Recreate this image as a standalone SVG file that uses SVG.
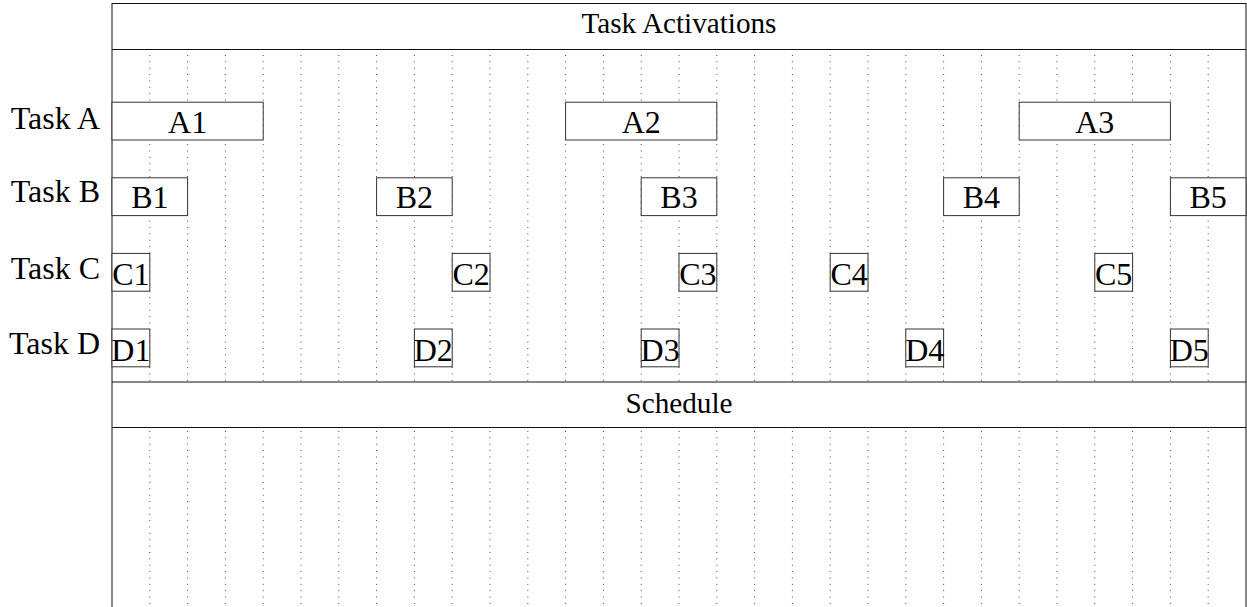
<svg xmlns="http://www.w3.org/2000/svg" width="1247" height="607" viewBox="0 0 1247 607">
<style>
.grid line{stroke:#000;stroke-width:0.8;stroke-dasharray:0.9 5.47}
.frame{stroke:#111;stroke-width:1;fill:none}
.box rect{fill:#fff;stroke:#333;stroke-width:1}
text{font-family:"Liberation Serif","Times New Roman",serif;fill:#000}
.lbl{font-size:32px;text-anchor:middle}
.task{font-size:32px;text-anchor:end}
.hdr{font-size:29.2px;text-anchor:middle}
</style>
<rect width="1247" height="607" fill="#fff"/>
<g id="grid" class="grid">
<line x1="149.8" y1="55" x2="149.8" y2="382"/><line x1="187.6" y1="55" x2="187.6" y2="382"/><line x1="225.4" y1="55" x2="225.4" y2="382"/><line x1="263.2" y1="55" x2="263.2" y2="382"/><line x1="301" y1="55" x2="301" y2="382"/><line x1="338.8" y1="55" x2="338.8" y2="382"/><line x1="376.6" y1="55" x2="376.6" y2="382"/><line x1="414.4" y1="55" x2="414.4" y2="382"/><line x1="452.2" y1="55" x2="452.2" y2="382"/><line x1="490" y1="55" x2="490" y2="382"/><line x1="527.8" y1="55" x2="527.8" y2="382"/><line x1="565.6" y1="55" x2="565.6" y2="382"/><line x1="603.4" y1="55" x2="603.4" y2="382"/><line x1="641.2" y1="55" x2="641.2" y2="382"/><line x1="679" y1="55" x2="679" y2="382"/><line x1="716.8" y1="55" x2="716.8" y2="382"/><line x1="754.6" y1="55" x2="754.6" y2="382"/><line x1="792.4" y1="55" x2="792.4" y2="382"/><line x1="830.2" y1="55" x2="830.2" y2="382"/><line x1="868" y1="55" x2="868" y2="382"/><line x1="905.8" y1="55" x2="905.8" y2="382"/><line x1="943.6" y1="55" x2="943.6" y2="382"/><line x1="981.4" y1="55" x2="981.4" y2="382"/><line x1="1019.2" y1="55" x2="1019.2" y2="382"/><line x1="1057" y1="55" x2="1057" y2="382"/><line x1="1094.8" y1="55" x2="1094.8" y2="382"/><line x1="1132.6" y1="55" x2="1132.6" y2="382"/><line x1="1170.4" y1="55" x2="1170.4" y2="382"/><line x1="1208.2" y1="55" x2="1208.2" y2="382"/>
<line x1="149.8" y1="431" x2="149.8" y2="607"/><line x1="187.6" y1="431" x2="187.6" y2="607"/><line x1="225.4" y1="431" x2="225.4" y2="607"/><line x1="263.2" y1="431" x2="263.2" y2="607"/><line x1="301" y1="431" x2="301" y2="607"/><line x1="338.8" y1="431" x2="338.8" y2="607"/><line x1="376.6" y1="431" x2="376.6" y2="607"/><line x1="414.4" y1="431" x2="414.4" y2="607"/><line x1="452.2" y1="431" x2="452.2" y2="607"/><line x1="490" y1="431" x2="490" y2="607"/><line x1="527.8" y1="431" x2="527.8" y2="607"/><line x1="565.6" y1="431" x2="565.6" y2="607"/><line x1="603.4" y1="431" x2="603.4" y2="607"/><line x1="641.2" y1="431" x2="641.2" y2="607"/><line x1="679" y1="431" x2="679" y2="607"/><line x1="716.8" y1="431" x2="716.8" y2="607"/><line x1="754.6" y1="431" x2="754.6" y2="607"/><line x1="792.4" y1="431" x2="792.4" y2="607"/><line x1="830.2" y1="431" x2="830.2" y2="607"/><line x1="868" y1="431" x2="868" y2="607"/><line x1="905.8" y1="431" x2="905.8" y2="607"/><line x1="943.6" y1="431" x2="943.6" y2="607"/><line x1="981.4" y1="431" x2="981.4" y2="607"/><line x1="1019.2" y1="431" x2="1019.2" y2="607"/><line x1="1057" y1="431" x2="1057" y2="607"/><line x1="1094.8" y1="431" x2="1094.8" y2="607"/><line x1="1132.6" y1="431" x2="1132.6" y2="607"/><line x1="1170.4" y1="431" x2="1170.4" y2="607"/><line x1="1208.2" y1="431" x2="1208.2" y2="607"/>
</g>
<g id="frame" class="frame">
<line x1="112" y1="3" x2="112" y2="607"/>
<line x1="1246" y1="3" x2="1246" y2="607"/>
<line x1="112" y1="3.5" x2="1246" y2="3.5"/>
<line x1="112" y1="49.5" x2="1246" y2="49.5"/>
<line x1="112" y1="382" x2="1246" y2="382"/>
<line x1="112" y1="427.5" x2="1246" y2="427.5"/>
</g>
<g id="header-activations"><text class="hdr" x="679" y="33">Task Activations</text></g>
<g id="header-schedule"><text class="hdr" x="679" y="412.7">Schedule</text></g>
<g id="labels">
<text class="task" x="100" y="129">Task A</text>
<text class="task" x="100" y="202">Task B</text>
<text class="task" x="100" y="279">Task C</text>
<text class="task" x="100" y="354">Task D</text>
</g>
<g id="connectors"/>
<g id="A1" class="box"><rect x="112" y="102.2" width="151.2" height="37.8"/><text class="lbl" x="187.6" y="133.2">A1</text></g>
<g id="A2" class="box"><rect x="565.6" y="102.2" width="151.2" height="37.8"/><text class="lbl" x="641.2" y="133.2">A2</text></g>
<g id="A3" class="box"><rect x="1019.2" y="102.2" width="151.2" height="37.8"/><text class="lbl" x="1094.8" y="133.2">A3</text></g>
<g id="B1" class="box"><rect x="112" y="177.8" width="75.6" height="37.8"/><text class="lbl" x="149.8" y="208.3">B1</text></g>
<g id="B2" class="box"><rect x="376.6" y="177.8" width="75.6" height="37.8"/><text class="lbl" x="414.4" y="208.3">B2</text></g>
<g id="B3" class="box"><rect x="641.2" y="177.8" width="75.6" height="37.8"/><text class="lbl" x="679" y="208.3">B3</text></g>
<g id="B4" class="box"><rect x="943.6" y="177.8" width="75.6" height="37.8"/><text class="lbl" x="981.4" y="208.3">B4</text></g>
<g id="B5" class="box"><rect x="1170.4" y="177.8" width="75.6" height="37.8"/><text class="lbl" x="1208.2" y="208.3">B5</text></g>
<g id="C1" class="box"><rect x="112" y="253.4" width="37.8" height="37.8"/><text class="lbl" x="130.9" y="285">C1</text></g>
<g id="C2" class="box"><rect x="452.2" y="253.4" width="37.8" height="37.8"/><text class="lbl" x="471.1" y="285">C2</text></g>
<g id="C3" class="box"><rect x="679" y="253.4" width="37.8" height="37.8"/><text class="lbl" x="697.9" y="285">C3</text></g>
<g id="C4" class="box"><rect x="830.2" y="253.4" width="37.8" height="37.8"/><text class="lbl" x="849.1" y="285">C4</text></g>
<g id="C5" class="box"><rect x="1094.8" y="253.4" width="37.8" height="37.8"/><text class="lbl" x="1113.7" y="285">C5</text></g>
<g id="D1" class="box"><rect x="112" y="329" width="37.8" height="37.8"/><text class="lbl" x="130.9" y="360.6">D1</text></g>
<g id="D2" class="box"><rect x="414.4" y="329" width="37.8" height="37.8"/><text class="lbl" x="433.3" y="360.6">D2</text></g>
<g id="D3" class="box"><rect x="641.2" y="329" width="37.8" height="37.8"/><text class="lbl" x="660.1" y="360.6">D3</text></g>
<g id="D4" class="box"><rect x="905.8" y="329" width="37.8" height="37.8"/><text class="lbl" x="924.7" y="360.6">D4</text></g>
<g id="D5" class="box"><rect x="1170.4" y="329" width="37.8" height="37.8"/><text class="lbl" x="1189.3" y="360.6">D5</text></g>
</svg>
